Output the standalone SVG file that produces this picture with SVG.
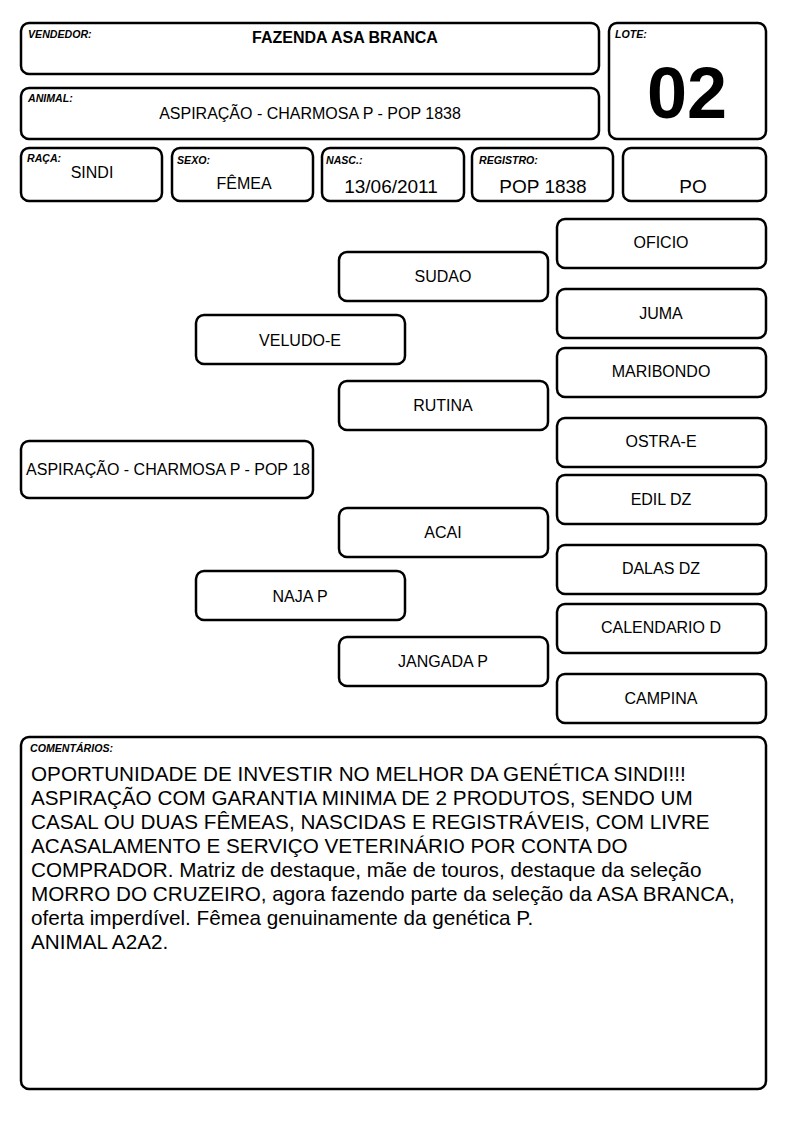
<svg xmlns="http://www.w3.org/2000/svg" width="794" height="1123" viewBox="0 0 794 1123">
<style>
.box{fill:#fff;stroke:#000;stroke-width:2.5}
.lbl{font-family:"Liberation Sans",Arial,sans-serif;font-weight:bold;font-style:italic;font-size:10.6px;fill:#000}
.t{font-family:"Liberation Sans",Arial,sans-serif;font-size:16px;fill:#000;text-anchor:middle}
.v{font-family:"Liberation Sans",Arial,sans-serif;font-size:19px;fill:#000;text-anchor:middle}
.c{font-family:"Liberation Sans",Arial,sans-serif;font-size:20.7px;fill:#000}
</style>
<rect width="794" height="1123" fill="#fff"/>
<g id="vendedor">
<rect class="box" x="21" y="23" width="578" height="51" rx="8"/>
<text class="lbl" x="28" y="38">VENDEDOR:</text>
<text class="t" x="345" y="43" font-weight="bold">FAZENDA ASA BRANCA</text>
</g>
<g id="animal">
<rect class="box" x="21" y="88" width="578" height="51" rx="8"/>
<text class="lbl" x="28" y="102">ANIMAL:</text>
<text class="t" x="310" y="119">ASPIRAÇÃO - CHARMOSA P - POP 1838</text>
</g>
<g id="lote">
<rect class="box" x="609" y="23" width="157" height="116" rx="8"/>
<text class="lbl" x="615" y="38">LOTE:</text>
<text x="687" y="118" font-family="Liberation Sans,Arial,sans-serif" font-weight="bold" font-size="72" text-anchor="middle">02</text>
</g>
<g id="raca">
<rect class="box" x="21" y="148" width="141" height="53" rx="8"/>
<text class="lbl" x="27" y="162">RAÇA:</text>
<text class="t" x="92" y="178" font-size="14">SINDI</text>
</g>
<g id="sexo">
<rect class="box" x="172" y="148" width="141" height="53" rx="8"/>
<text class="lbl" x="177" y="164">SEXO:</text>
<text class="t" x="244" y="189" font-size="14">FÊMEA</text>
</g>
<g id="nasc">
<rect class="box" x="322" y="148" width="142" height="53" rx="8"/>
<text class="lbl" x="326" y="164">NASC.:</text>
<text class="v" x="391" y="193">13/06/2011</text>
</g>
<g id="registro">
<rect class="box" x="472" y="148" width="141" height="53" rx="8"/>
<text class="lbl" x="479" y="164">REGISTRO:</text>
<text class="v" x="543" y="193">POP 1838</text>
</g>
<g id="po">
<rect class="box" x="623" y="148" width="143" height="53" rx="8"/>
<text class="v" x="693" y="193">PO</text>
</g>
<g id="connectors"></g>
<g id="n-aspiracao">
<rect class="box" x="21" y="441" width="292" height="57" rx="8"/>
<text class="t" x="168" y="475" font-size="15.8">ASPIRAÇÃO - CHARMOSA P - POP 18</text>
</g>
<g id="n-veludo">
<rect class="box" x="196" y="315" width="209" height="49" rx="8"/>
<text class="t" x="300" y="346">VELUDO-E</text>
</g>
<g id="n-naja">
<rect class="box" x="196" y="571" width="209" height="49" rx="8"/>
<text class="t" x="300" y="602">NAJA P</text>
</g>
<g id="n-sudao">
<rect class="box" x="339" y="252" width="209" height="49" rx="8"/>
<text class="t" x="443" y="282">SUDAO</text>
</g>
<g id="n-rutina">
<rect class="box" x="339" y="381" width="209" height="49" rx="8"/>
<text class="t" x="443" y="411">RUTINA</text>
</g>
<g id="n-acai">
<rect class="box" x="339" y="508" width="209" height="49" rx="8"/>
<text class="t" x="443" y="538">ACAI</text>
</g>
<g id="n-jangada">
<rect class="box" x="339" y="637" width="209" height="49" rx="8"/>
<text class="t" x="443" y="667">JANGADA P</text>
</g>
<g id="n-oficio">
<rect class="box" x="557" y="219" width="209" height="49" rx="8"/>
<text class="t" x="661" y="248">OFICIO</text>
</g>
<g id="n-juma">
<rect class="box" x="557" y="289" width="209" height="49" rx="8"/>
<text class="t" x="661" y="319">JUMA</text>
</g>
<g id="n-maribondo">
<rect class="box" x="557" y="348" width="209" height="49" rx="8"/>
<text class="t" x="661" y="377">MARIBONDO</text>
</g>
<g id="n-ostra">
<rect class="box" x="557" y="418" width="209" height="49" rx="8"/>
<text class="t" x="661" y="447">OSTRA-E</text>
</g>
<g id="n-edil">
<rect class="box" x="557" y="475" width="209" height="49" rx="8"/>
<text class="t" x="661" y="505">EDIL DZ</text>
</g>
<g id="n-dalas">
<rect class="box" x="557" y="545" width="209" height="49" rx="8"/>
<text class="t" x="661" y="574">DALAS DZ</text>
</g>
<g id="n-calendario">
<rect class="box" x="557" y="604" width="209" height="49" rx="8"/>
<text class="t" x="661" y="633">CALENDARIO D</text>
</g>
<g id="n-campina">
<rect class="box" x="557" y="674" width="209" height="49" rx="8"/>
<text class="t" x="661" y="704">CAMPINA</text>
</g>
<g id="comentarios">
<rect class="box" x="21" y="737" width="745" height="352" rx="8"/>
<text class="lbl" x="30" y="752">COMENTÁRIOS:</text>
<text class="c" x="31" y="781">OPORTUNIDADE DE INVESTIR NO MELHOR DA GENÉTICA SINDI!!!</text>
<text class="c" x="31" y="805">ASPIRAÇÃO COM GARANTIA MINIMA DE 2 PRODUTOS, SENDO UM</text>
<text class="c" x="31" y="829">CASAL OU DUAS FÊMEAS, NASCIDAS E REGISTRÁVEIS, COM LIVRE</text>
<text class="c" x="31" y="853">ACASALAMENTO E SERVIÇO VETERINÁRIO POR CONTA DO</text>
<text class="c" x="31" y="877">COMPRADOR. Matriz de destaque, mãe de touros, destaque da seleção</text>
<text class="c" x="31" y="901">MORRO DO CRUZEIRO, agora fazendo parte da seleção da ASA BRANCA,</text>
<text class="c" x="31" y="925">oferta imperdível. Fêmea genuinamente da genética P.</text>
<text class="c" x="31" y="949">ANIMAL A2A2.</text>
</g>
</svg>
